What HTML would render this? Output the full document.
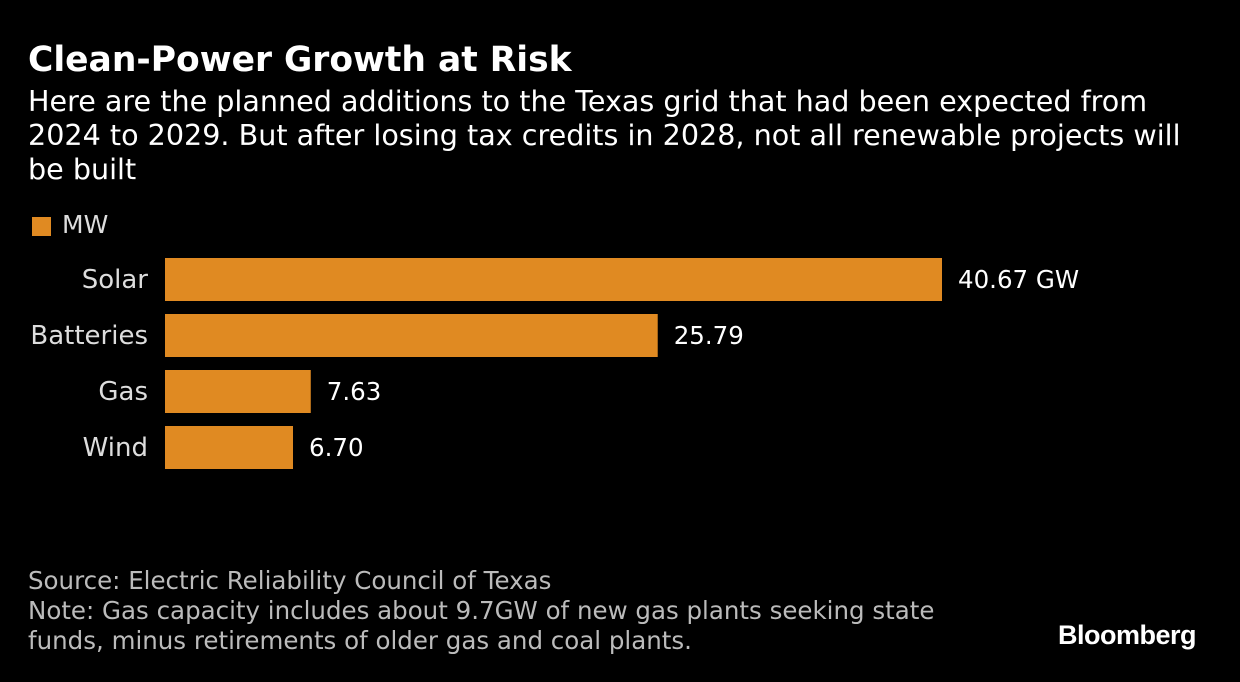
<!DOCTYPE html>
<html><head><meta charset="utf-8"><style>
body{margin:0;width:1240px;height:682px;background:#000;color:#fff;font-family:"DejaVu Sans","Liberation Sans",sans-serif;position:relative;overflow:hidden}
.t{position:absolute;white-space:nowrap}
</style></head><body>
<div class="t" style="left:28px;top:40px;font-size:34.5px;font-weight:bold;font-family:'DejaVu Sans','Liberation Sans',sans-serif">Clean-Power Growth at Risk</div>
<div class="t" style="left:28px;top:84px;font-size:28.6px;line-height:34px;white-space:normal;width:1185px">Here are the planned additions to the Texas grid that had been expected from 2024 to 2029. But after losing tax credits in 2028, not all renewable projects will be built</div>
<div style="position:absolute;left:32px;top:217px;width:19px;height:19px;background:#e08a22"></div>
<div class="t" style="left:62px;top:210px;font-size:25px;color:#ddd">MW</div>
<svg id="chart" width="1240" height="682" style="position:absolute;left:0;top:0"></svg>
<div class="t" style="left:28px;top:566px;font-size:24.5px;line-height:30px;color:#bbb">Source: Electric Reliability Council of Texas<br>Note: Gas capacity includes about 9.7GW of new gas plants seeking state<br>funds, minus retirements of older gas and coal plants.</div>
<div class="t" style="left:1058px;top:620px;font-size:27px;font-weight:bold;font-family:'Liberation Sans',sans-serif;letter-spacing:-0.5px">Bloomberg</div>
<script>
const categories=["Solar","Batteries","Gas","Wind"];
const values=[40.67,25.79,7.63,6.70];
const valueLabels=["40.67 GW","25.79","7.63","6.70"];
const svg=document.getElementById('chart');
const NS='http://www.w3.org/2000/svg';
const x0=165, pxPerUnit=777/40.67;
const x=v=>x0+v*pxPerUnit;
const y=i=>258+i*56;
categories.forEach((c,i)=>{
  const r=document.createElementNS(NS,'rect');
  r.setAttribute('x',x0);r.setAttribute('y',y(i));
  r.setAttribute('width',x(values[i])-x0);r.setAttribute('height',43);
  r.setAttribute('fill','#e08a22');
  
  
  svg.appendChild(r);
  const l=document.createElementNS(NS,'text');
  l.setAttribute('x',148);l.setAttribute('y',y(i)+30);
  l.setAttribute('text-anchor','end');l.setAttribute('fill','#ddd');l.setAttribute('font-size','26');
  l.textContent=c;
  
  
  svg.appendChild(l);
  const v=document.createElementNS(NS,'text');
  v.setAttribute('x',x(values[i])+16);v.setAttribute('y',y(i)+30);
  v.setAttribute('fill','#fff');v.setAttribute('font-size','24.5');
  v.textContent=valueLabels[i];
  
  
  svg.appendChild(v);
});
</script>
</body></html>
